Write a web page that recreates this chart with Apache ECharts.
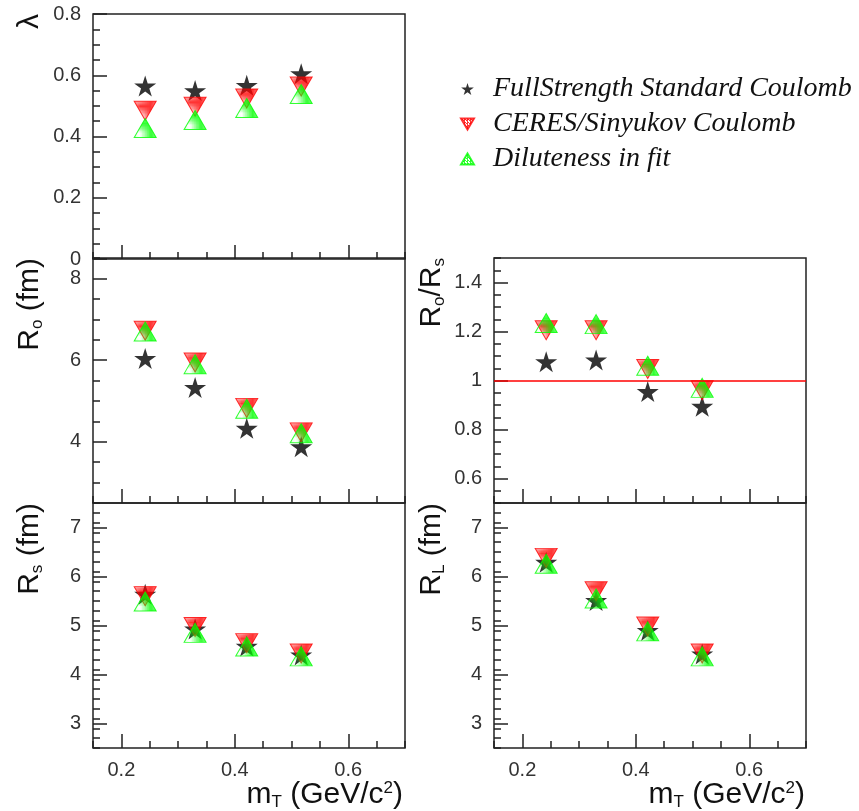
<!DOCTYPE html>
<html>
<head>
<meta charset="utf-8">
<script src="https://cdn.jsdelivr.net/npm/echarts@6/dist/echarts.min.js"></script>
<style>
  html, body { margin: 0; padding: 0; background: #fff; }
  #chart { width: 859px; height: 811px; }
</style>
</head>
<body>
<div id="chart"></div>
<script>
// m_T bin centres (GeV/c^2), shared by all panels
var mT = [0.242, 0.330, 0.421, 0.517]

var seriesNames = ["FullStrength Standard Coulomb", "CERES/Sinyukov Coulomb", "Diluteness in fit"]

// lambda
var lambdaStd = [0.565, 0.550, 0.567, 0.605]
var lambdaCeres = [0.484, 0.497, 0.524, 0.563]
var lambdaDil = [0.428, 0.454, 0.493, 0.539]

// R_o (fm)
var roStd = [6.04, 5.33, 4.33, 3.88]
var roCeres = [6.72, 5.94, 4.83, 4.23]
var roDil = [6.70, 5.90, 4.81, 4.21]

// R_s (fm)
var rsStd = [5.64, 4.93, 4.58, 4.40]
var rsCeres = [5.60, 4.97, 4.64, 4.43]
var rsDil = [5.49, 4.85, 4.57, 4.37]

// R_o / R_s
var ratioStd = [1.077, 1.084, 0.955, 0.895]
var ratioCeres = [1.205, 1.205, 1.047, 0.960]
var ratioDil = [1.235, 1.230, 1.060, 0.970]

// R_L (fm)
var rlStd = [6.29, 5.51, 4.90, 4.42]
var rlCeres = [6.38, 5.70, 4.98, 4.43]
var rlDil = [6.26, 5.55, 4.88, 4.37]

var xTickLabels = [0.2, 0.4, 0.6]
var lambdaTicks = [0, 0.2, 0.4, 0.6, 0.8]
var roTicks = [4, 6, 8]
var radiusTicks = [3, 4, 5, 6, 7]
var ratioTicks = [0.6, 0.8, 1, 1.2, 1.4]

var chartDom = document.getElementById("chart")
var myChart = echarts.init(chartDom)

function hatch(color) {
    var c = document.createElement("canvas")
    c.width = 3
    c.height = 3
    var ctx = c.getContext("2d")
    ctx.fillStyle = color
    ctx.fillRect(0, 0, 1, 3)
    ctx.fillRect(1, 1, 1, 1)
    ctx.fillRect(2, 2, 1, 1)
    return { image: c, repeat: "repeat" }
}

var starPath = "path://M50,0 L61,35 L98,35 L68,57 L79,91 L50,70 L21,91 L32,57 L2,35 L39,35 Z"
var downPath = "path://M0,0 L100,0 L50,86 Z"
var upPath = "path://M50,0 L100,86 L0,86 Z"

var panels = [
    { left: 93, top: 14, min: 0, max: 0.8, minor: 0.05, ticks: lambdaTicks, xLabels: false,
      data: [lambdaStd, lambdaCeres, lambdaDil], fmt: function (v) { return v === 0 ? "0" : v.toFixed(1) } },
    { left: 93, top: 258, min: 2.5, max: 8.5, minor: 0.5, ticks: roTicks, xLabels: false,
      data: [roStd, roCeres, roDil], fmt: function (v) { return String(v) } },
    { left: 93, top: 503, min: 2.5, max: 7.5, minor: 0.2, ticks: radiusTicks, xLabels: true,
      data: [rsStd, rsCeres, rsDil], fmt: function (v) { return String(v) } },
    { left: 494, top: 258, min: 0.5, max: 1.5, minor: 0.05, ticks: ratioTicks, xLabels: false, line: 1,
      data: [ratioStd, ratioCeres, ratioDil], fmt: function (v) { return v === 1 ? "1" : v.toFixed(1) } },
    { left: 494, top: 503, min: 2.5, max: 7.5, minor: 0.2, ticks: radiusTicks, xLabels: true,
      data: [rlStd, rlCeres, rlDil], fmt: function (v) { return String(v) } }
]

var labelFont = { color: "#333", fontFamily: "Liberation Sans, Arial, sans-serif", fontSize: 20 }
var tickLine = { color: "#222", width: 1.5 }

var grid = [], xAxis = [], yAxis = [], series = []

panels.forEach(function (p, i) {
    grid.push({ left: p.left, top: p.top, width: 312, height: 245, show: true,
        borderColor: "#222", borderWidth: 1.5, backgroundColor: "transparent" })
    // main x axis: long ticks + labels
    xAxis.push({
        gridIndex: i, type: "value", position: "bottom", min: 0.15, max: 0.7,
        axisLine: { show: false },
        axisTick: { inside: true, length: 14, customValues: xTickLabels, lineStyle: tickLine },
        axisLabel: { show: p.xLabels, customValues: xTickLabels, margin: 12,
            formatter: function (v) { return v.toFixed(1) }, color: labelFont.color,
            fontFamily: labelFont.fontFamily, fontSize: labelFont.fontSize },
        splitLine: { show: false }
    })
    // minor x ticks
    xAxis.push({
        gridIndex: i, type: "value", position: "bottom", min: 0.15, max: 0.7, interval: 0.05,
        axisLine: { show: false },
        axisTick: { inside: true, length: 7, lineStyle: tickLine },
        axisLabel: { show: false }, splitLine: { show: false }
    })
    yAxis.push({
        gridIndex: i, type: "value", position: "left", min: p.min, max: p.max,
        axisLine: { show: false },
        axisTick: { inside: true, length: 14, customValues: p.ticks, lineStyle: tickLine },
        axisLabel: { customValues: p.ticks, margin: 12, formatter: p.fmt, color: labelFont.color,
            fontFamily: labelFont.fontFamily, fontSize: labelFont.fontSize },
        splitLine: { show: false }
    })
    yAxis.push({
        gridIndex: i, type: "value", position: "left", min: p.min, max: p.max, interval: p.minor,
        axisLine: { show: false },
        axisTick: { inside: true, length: 7, lineStyle: tickLine },
        axisLabel: { show: false }, splitLine: { show: false }
    })
    var xi = i * 2, yi = i * 2
    var pairs = function (vals) { return mT.map(function (x, k) { return [x, vals[k]] }) }
    var star = {
        name: seriesNames[0], type: "scatter", xAxisIndex: xi, yAxisIndex: yi,
        symbol: starPath, symbolSize: [22, 21], z: 2,
        itemStyle: { color: "#000" }, data: pairs(p.data[0])
    }
    if (p.line !== undefined) {
        star.markLine = { silent: true, symbol: "none", label: { show: false },
            lineStyle: { color: "#f00", width: 1.5, type: "solid" }, data: [{ yAxis: p.line }] }
    }
    series.push(star)
    series.push({
        name: seriesNames[1], type: "scatter", xAxisIndex: xi, yAxisIndex: yi,
        symbol: downPath, symbolSize: [22, 19], z: 3,
        itemStyle: { color: hatch("#f00"), borderColor: "#f00", borderWidth: 1 },
        data: pairs(p.data[1])
    })
    series.push({
        name: seriesNames[2], type: "scatter", xAxisIndex: xi, yAxisIndex: yi,
        symbol: upPath, symbolSize: [22, 19], z: 4,
        itemStyle: { color: hatch("#0f0"), borderColor: "#0f0", borderWidth: 1 },
        data: pairs(p.data[2])
    })
})

var titleFont = "30px Liberation Sans, Arial, sans-serif"
var rich = {
    sub: { fontSize: 17, fontFamily: "Liberation Sans, Arial, sans-serif", padding: [14, 0, 0, 0] },
    sup: { fontSize: 17, fontFamily: "Liberation Sans, Arial, sans-serif", padding: [0, 0, 14, 0] }
}

function yTitle(text, x, y) {
    return { type: "text", x: x, y: y, rotation: Math.PI / 2,
        style: { text: text, font: titleFont, fill: "#111", align: "right", verticalAlign: "middle", rich: rich } }
}
function xTitle(x, y) {
    return { type: "text", x: x, y: y,
        style: { text: "m{sub|T} (GeV/c{sup|2})", font: titleFont, fill: "#111", align: "right", verticalAlign: "middle", rich: rich } }
}

option = {
    animation: false,
    legend: {
        data: [
            { name: seriesNames[0], icon: starPath },
            { name: seriesNames[1], icon: downPath },
            { name: seriesNames[2], icon: upPath }
        ],
        orient: "vertical", left: 455, top: 70,
        itemWidth: 13, itemHeight: 12, itemGap: 7,
        textStyle: { fontFamily: "Liberation Serif, Times New Roman, serif", fontStyle: "italic",
            fontSize: 28, color: "#111", lineHeight: 28, padding: [0, 0, 0, 14] }
    },
    grid: grid,
    xAxis: xAxis,
    yAxis: yAxis,
    series: series,
    graphic: [
        yTitle("λ", 30, 14),
        yTitle("R{sub|o} (fm)", 30, 258),
        yTitle("R{sub|s} (fm)", 30, 503),
        yTitle("R{sub|o}/R{sub|s}", 432, 258),
        yTitle("R{sub|L} (fm)", 432, 503),
        xTitle(403, 795),
        xTitle(805, 795)
    ]
}

option && myChart.setOption(option)
</script>
</body>
</html>
